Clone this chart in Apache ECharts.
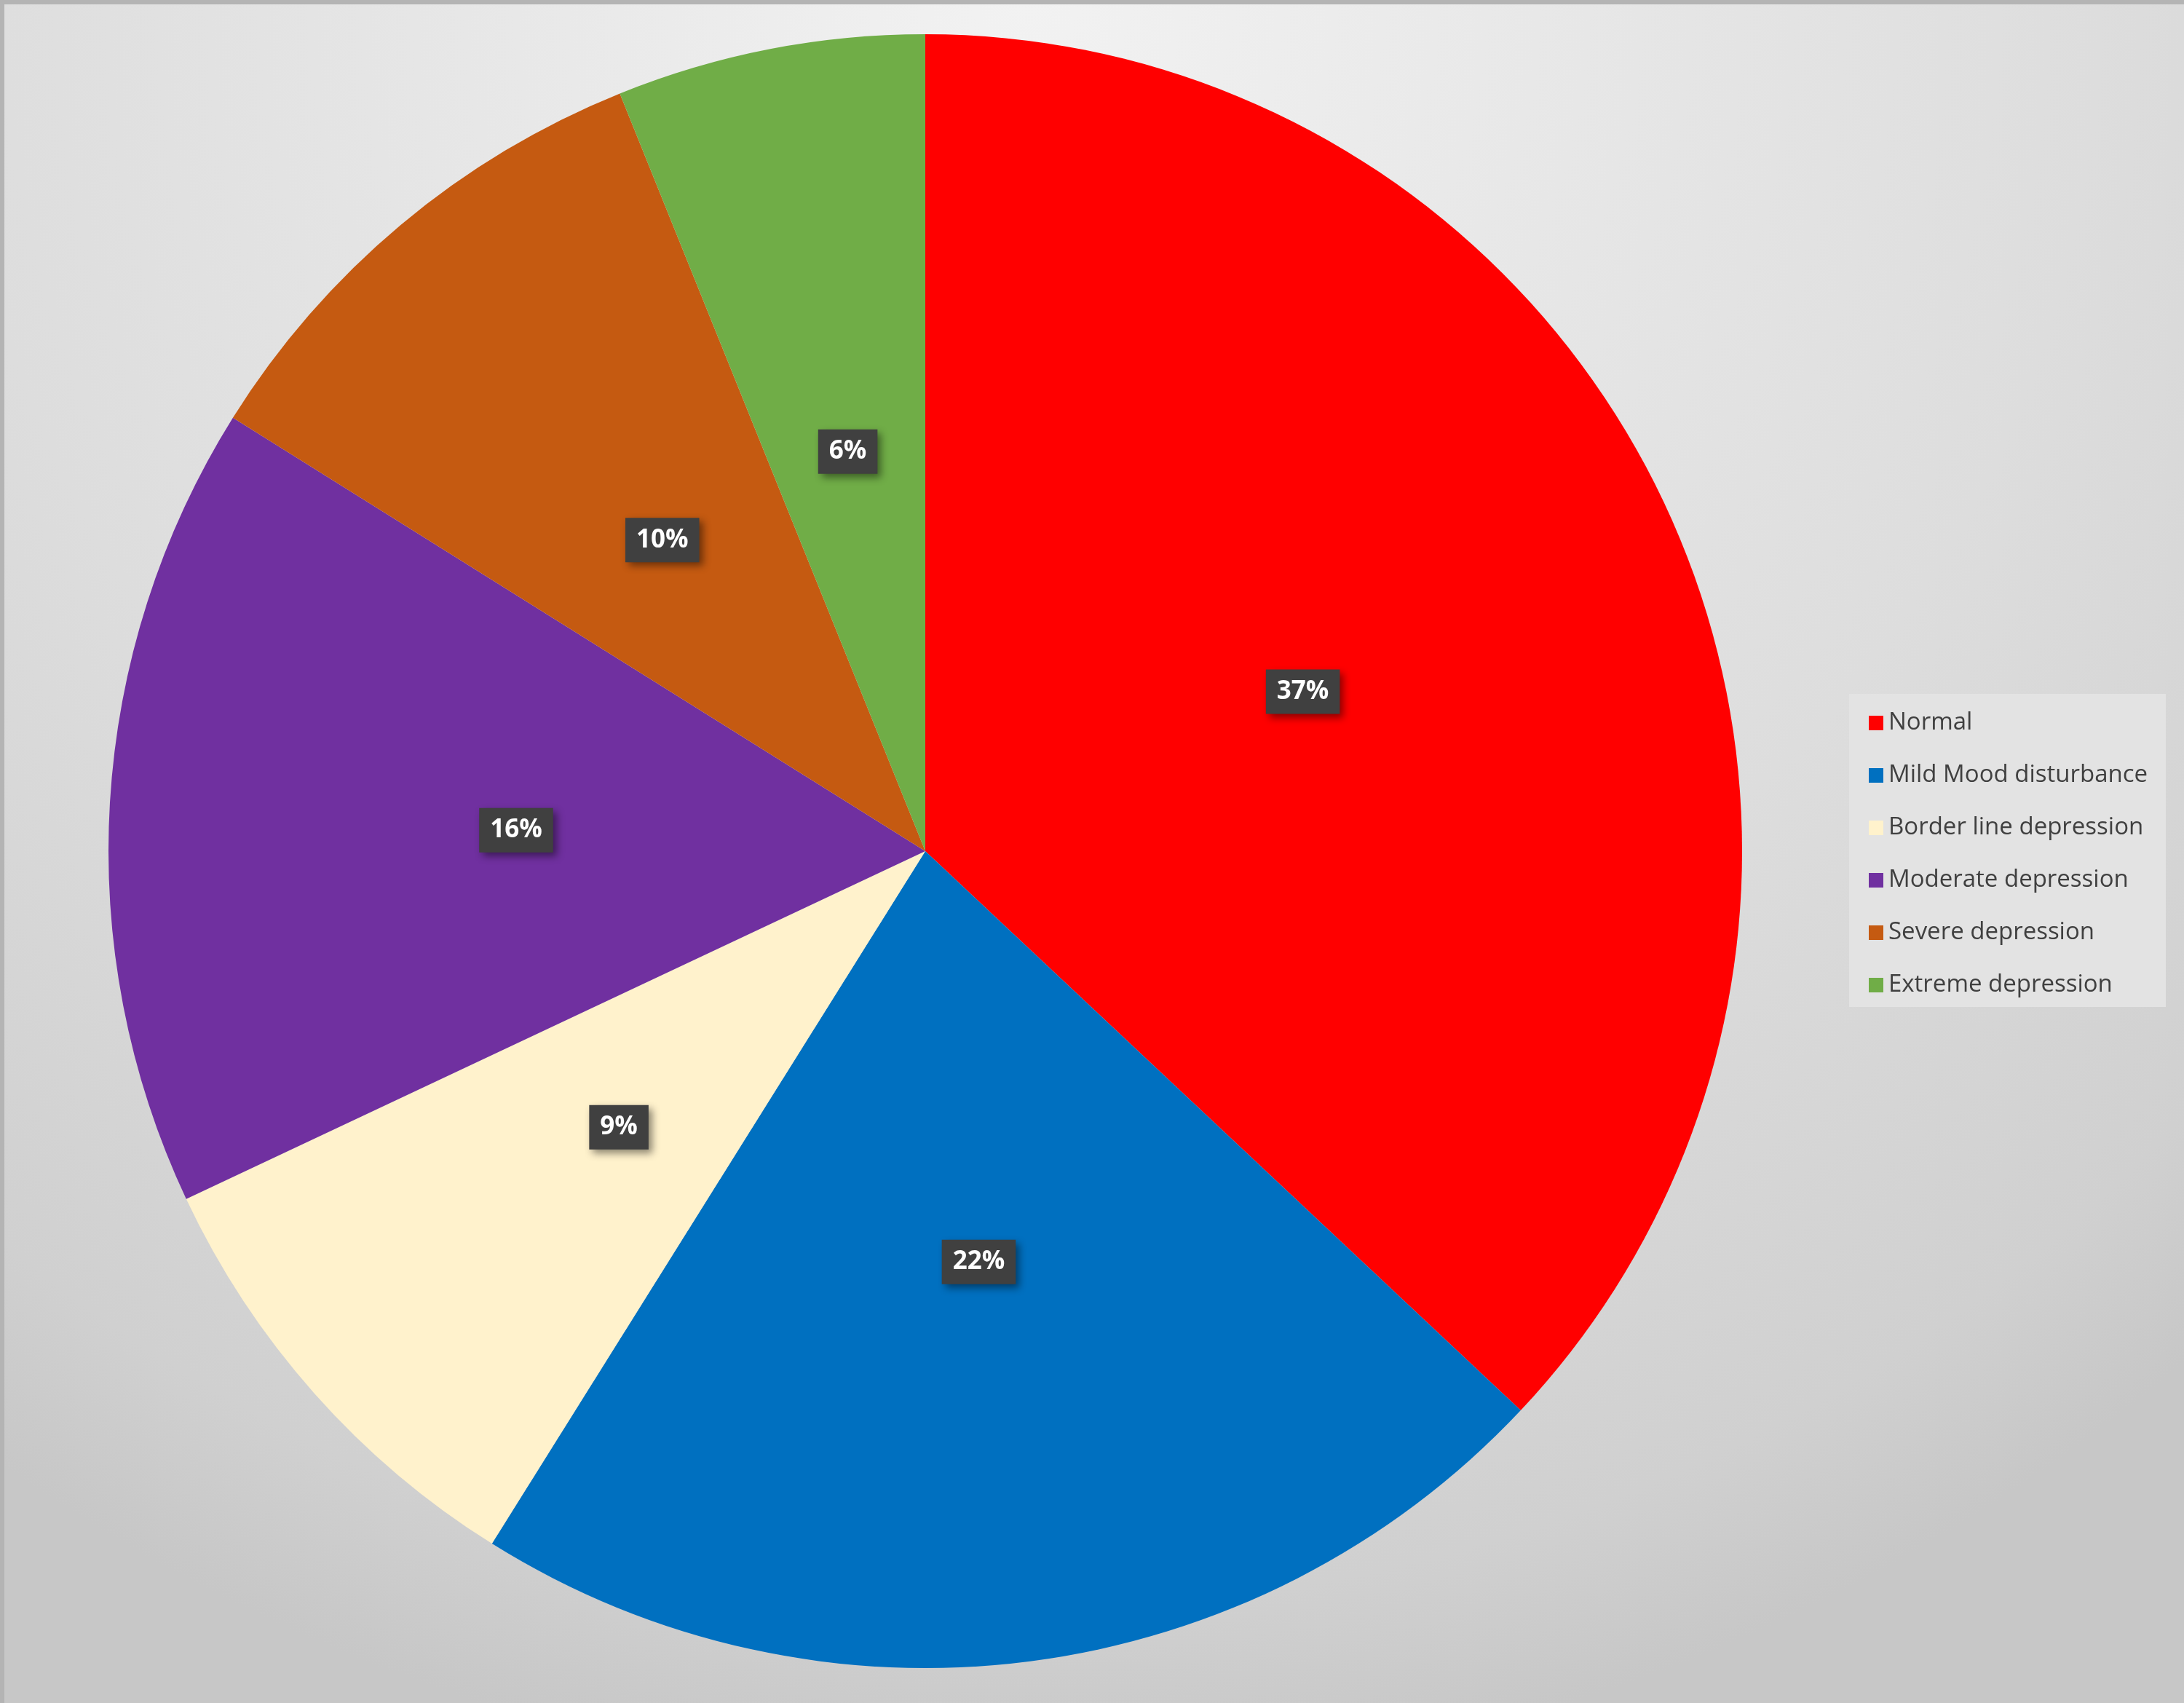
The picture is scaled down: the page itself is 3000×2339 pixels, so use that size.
<!DOCTYPE html>
<html>
<head>
<meta charset="utf-8">
<script src="https://cdn.jsdelivr.net/npm/echarts@6/dist/echarts.min.js"></script>
<style>html,body{margin:0;padding:0;}#chart{width:3000px;height:2339px;}</style>
</head>
<body>
<div id="chart"></div>
<script>
const categories = ['Normal', 'Mild Mood disturbance', 'Border line depression', 'Moderate depression', 'Severe depression', 'Extreme depression'];
const shares = [37.0, 21.9, 9.1, 15.9, 10.0, 6.1];
const sliceColors = ['#FF0000', '#0070C0', '#FFF2CC', '#7030A0', '#C55A11', '#70AD47'];

const chart = echarts.init(document.getElementById('chart'), null, {renderer: 'canvas'});
chart.setOption({
  animation: false,
  backgroundColor: {
    type: 'radial', x: 0.47, y: 0.0, r: 1.05,
    colorStops: [
      {offset: 0, color: '#f2f2f2'},
      {offset: 0.6, color: '#dddddd'},
      {offset: 0.9, color: '#d0d0d0'},
      {offset: 1, color: '#c7c7c7'}
    ]
  },
  graphic: [
    {type: 'rect', left: 0, top: 0, z: 0, silent: true,
     shape: {width: 3000, height: 2339},
     style: {fill: 'none', stroke: '#b4b4b4', lineWidth: 6}},
    {type: 'rect', left: 2540, top: 953, z: 0, silent: true,
     shape: {width: 435, height: 430},
     style: {fill: '#e3e3e3'}}
  ],
  legend: {
    orient: 'vertical',
    left: 2562, top: 971,
    itemWidth: 20, itemHeight: 20,
    itemGap: 38,
    icon: 'rect',
    data: categories,
    textStyle: {fontFamily: 'Open Sans', fontSize: 33, color: '#404040', lineHeight: 34, padding: [0, 0, 0, 2]}
  },
  series: [{
    type: 'pie',
    center: [1271, 1169],
    radius: [0, 1122],
    startAngle: 90,
    clockwise: true,
    avoidLabelOverlap: false,
    itemStyle: {borderWidth: 0},
    label: {
      show: true,
      position: 'inside',
      offset: [1, 5],
      formatter: p => Math.round(p.percent) + '%',
      fontFamily: 'Open Sans',
      fontWeight: 'bold',
      fontSize: 35,
      color: '#ffffff',
      backgroundColor: '#404040',
      padding: [15, 15, 11, 15],
      shadowColor: 'rgba(0,0,0,0.45)',
      shadowBlur: 10,
      shadowOffsetX: 5,
      shadowOffsetY: 5
    },
    labelLine: {show: false},
    data: categories.map((c, i) => ({name: c, value: shares[i], itemStyle: {color: sliceColors[i]}}))
  }]
});
</script>
</body>
</html>
